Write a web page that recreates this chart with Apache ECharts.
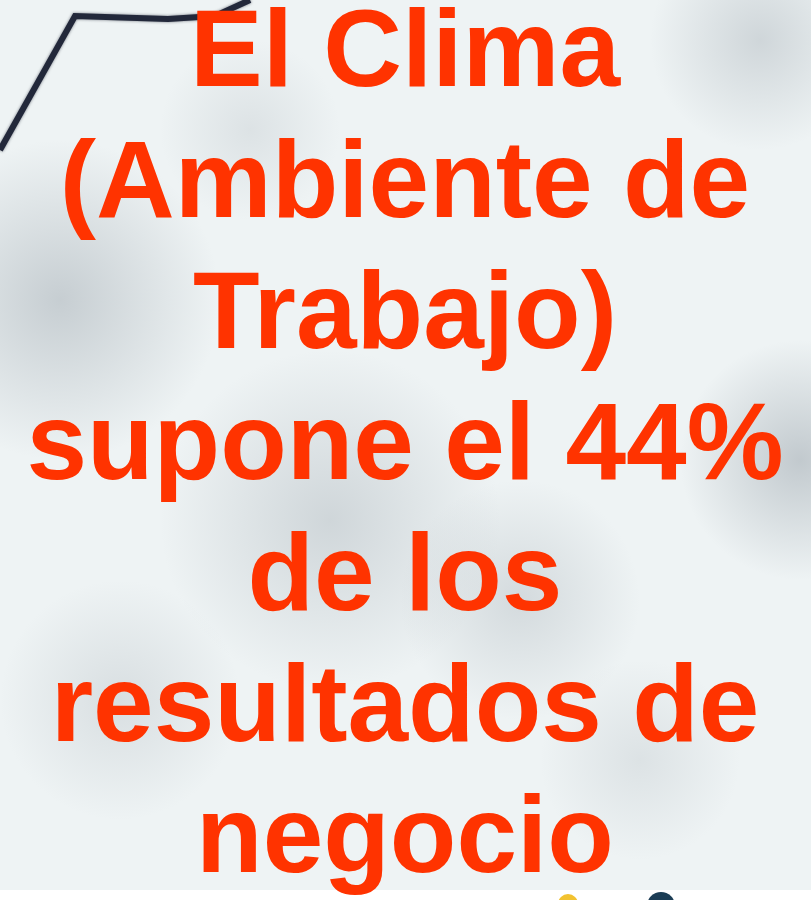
<!DOCTYPE html>
<html>
<head>
<meta charset="utf-8">
<script src="https://cdn.jsdelivr.net/npm/echarts@6/dist/echarts.min.js"></script>
<style>
  html, body { margin: 0; padding: 0; background: #eef2f3; }
  #main { width: 811px; height: 900px; }
</style>
</head>
<body>
<div id="main"></div>
<script>
// text lines of the slide
const lines = ['El Clima', '(Ambiente de', 'Trabajo)', 'supone el 44%', 'de los', 'resultados de', 'negocio'];
const textColor = '#ff3300';

// soft gray blobs of the blurred photo behind the text: [x, y, r, opacity]
const blobs = [
  [60, 300, 160, 0.45],
  [330, 520, 170, 0.35],
  [520, 600, 120, 0.3],
  [800, 460, 120, 0.5],
  [760, 40, 110, 0.35],
  [250, 130, 90, 0.2],
  [120, 700, 120, 0.25],
  [640, 760, 100, 0.2]
];

const chart = echarts.init(document.getElementById('main'));

const elements = [];
elements.push({
  type: 'rect', shape: { x: 0, y: 0, width: 811, height: 890 },
  style: { fill: '#eef3f4' }, silent: true
});
blobs.forEach(b => {
  elements.push({
    type: 'circle', shape: { cx: b[0], cy: b[1], r: b[2] }, silent: true,
    style: {
      fill: new echarts.graphic.RadialGradient(0.5, 0.5, 0.5, [
        { offset: 0, color: 'rgba(150,160,168,' + b[3] + ')' },
        { offset: 1, color: 'rgba(150,160,168,0)' }
      ])
    }
  });
});
// dark frame line in the top-left corner
elements.push({
  type: 'polyline', silent: true,
  shape: { points: [[0, 150], [75, 16], [168, 19], [215, 16], [250, 0]] },
  style: { stroke: '#22283a', lineWidth: 6, fill: null, shadowBlur: 3, shadowColor: 'rgba(30,35,50,0.6)' }
});
// white strip and small shapes at the bottom
elements.push({
  type: 'rect', shape: { x: 0, y: 890, width: 811, height: 10 },
  style: { fill: '#ffffff' }, silent: true
});
elements.push({ type: 'circle', shape: { cx: 568, cy: 904, r: 10 }, style: { fill: '#f2c230' }, silent: true });
elements.push({ type: 'circle', shape: { cx: 661, cy: 906, r: 14 }, style: { fill: '#1c3d55' }, silent: true });

lines.forEach((t, i) => {
  elements.push({
    type: 'text',
    x: 405,
    y: 56 + i * 131,
    style: {
      text: t,
      font: 'bold 109px "Liberation Sans", Arial, sans-serif',
      fill: textColor,
      textAlign: 'center',
      textVerticalAlign: 'middle'
    }
  });
});

chart.setOption({
  animation: false,
  graphic: { elements: elements }
});
</script>
</body>
</html>
